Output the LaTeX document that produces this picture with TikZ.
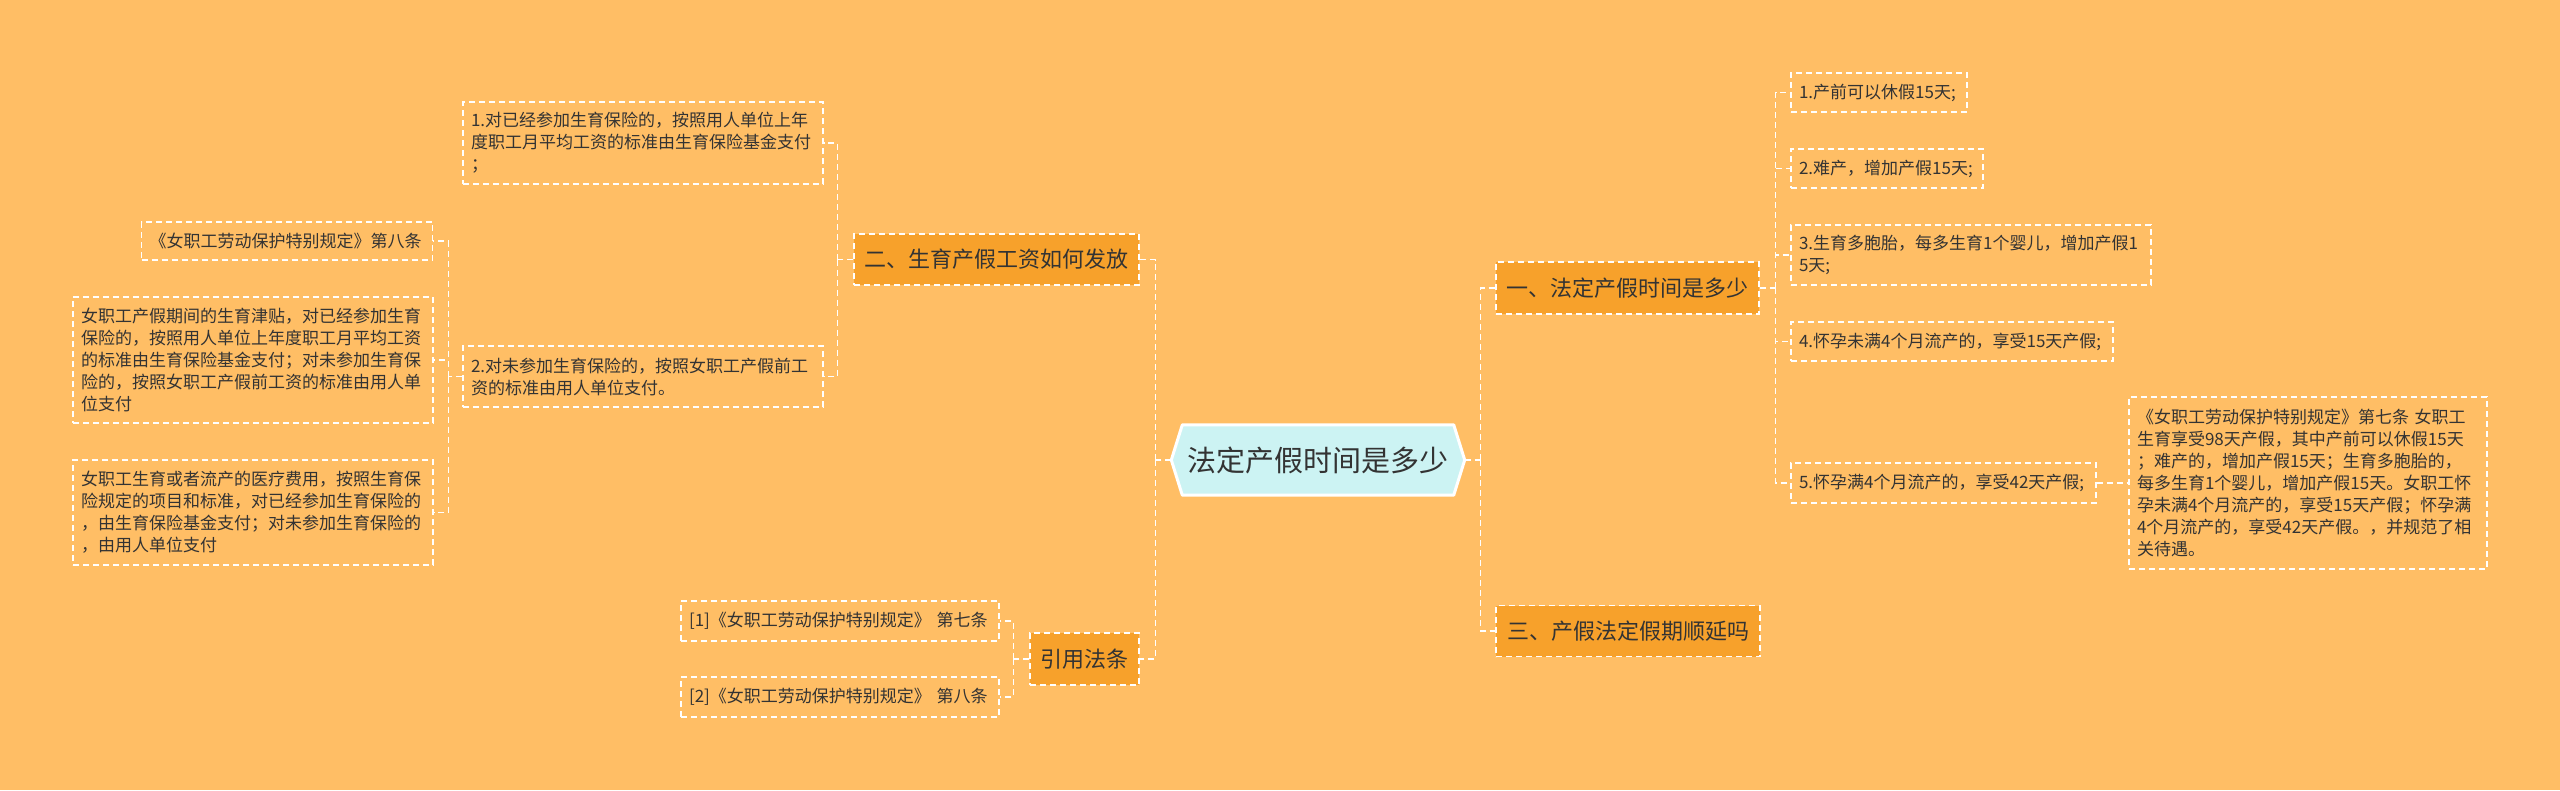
\documentclass[tikz,border=0pt]{standalone}
\usepackage{fontspec}
\setmainfont{Noto Sans CJK SC}
\definecolor{bgc}{HTML}{FFBE65}
\definecolor{brc}{HTML}{F7A12B}
\definecolor{cenc}{HTML}{CCF3F3}
\definecolor{txt}{HTML}{333333}
\pgfdeclarelayer{bg}
\pgfsetlayers{bg,main}
\begin{document}
\begin{tikzpicture}[x=1pt,y=-1pt,
  leaf/.style={draw=white, dash pattern=on 6pt off 4pt, line width=1.3pt, text=txt,
    inner xsep=8pt, inner ysep=0pt, align=left, font=\fontsize{17}{22}\selectfont},
  branch/.style={fill=brc, draw=white, dash pattern=on 6pt off 4pt, line width=1.3pt, text=txt,
    inner sep=0pt, font=\fontsize{22}{26}\selectfont},
  cen/.style={inner sep=0pt, text=txt, minimum width=293pt, minimum height=70pt,
    font=\fontsize{29}{34}\selectfont},
  conn/.style={draw=white, line width=1.3pt, dash pattern=on 6pt off 4pt}
]
\useasboundingbox (0,0) rectangle (2560,790);

% centre
\node[cen] (c) at (1318,460) {法定产假时间是多少};

% main branches
\node[branch, minimum width=285pt, minimum height=51pt] (b2) at (996.5,259.5) {二、生育产假工资如何发放};
\node[branch, minimum width=109pt, minimum height=52pt] (ref) at (1084.5,659) {引用法条};
\node[branch, minimum width=263pt, minimum height=52pt] (b1) at (1627.5,288) {一、法定产假时间是多少};
\node[branch, minimum width=264pt, minimum height=51pt] (b3) at (1628,631) {三、产假法定假期顺延吗};

% left leaves
\node[leaf, text width=344pt, minimum height=82pt] (l1) at (643,143)
  {1.对已经参加生育保险的，按照用人单位上年\\度职工月平均工资的标准由生育保险基金支付\\；};
\node[leaf, text width=344pt, minimum height=61pt] (l2) at (643,376.5)
  {2.对未参加生育保险的，按照女职工产假前工\\资的标准由用人单位支付。};
\node[leaf, text width=275pt, minimum height=38pt] (ll1) at (287,241)
  {《女职工劳动保护特别规定》第八条};
\node[leaf, text width=344pt, minimum height=126pt] (ll2) at (253,360)
  {女职工产假期间的生育津贴，对已经参加生育\\保险的，按照用人单位上年度职工月平均工资\\的标准由生育保险基金支付；对未参加生育保\\险的，按照女职工产假前工资的标准由用人单\\位支付};
\node[leaf, text width=344pt, minimum height=105pt] (ll3) at (253,512.5)
  {女职工生育或者流产的医疗费用，按照生育保\\险规定的项目和标准，对已经参加生育保险的\\，由生育保险基金支付；对未参加生育保险的\\，由用人单位支付};

% references
\node[leaf, text width=302pt, minimum height=40pt] (r1) at (840,621)
  {[1]《女职工劳动保护特别规定》 第七条};
\node[leaf, text width=302pt, minimum height=40pt] (r2) at (840,697)
  {[2]《女职工劳动保护特别规定》 第八条};

% right leaves
\node[leaf, text width=160pt, minimum height=39pt] (p1) at (1879,92.5) {1.产前可以休假15天;};
\node[leaf, text width=176pt, minimum height=39pt] (p2) at (1887,168.5) {2.难产，增加产假15天;};
\node[leaf, text width=344pt, minimum height=60pt] (p3) at (1971,255)
  {3.生育多胞胎，每多生育1个婴儿，增加产假1\\5天;};
\node[leaf, text width=306pt, minimum height=39pt] (p4) at (1952,341.5) {4.怀孕未满4个月流产的，享受15天产假;};
\node[leaf, text width=289pt, minimum height=40pt] (p5) at (1943.5,483) {5.怀孕满4个月流产的，享受42天产假;};
\node[leaf, text width=342pt, minimum height=172pt] (lg) at (2308,483)
  {《女职工劳动保护特别规定》第七条 女职工\\生育享受98天产假，其中产前可以休假15天\\；难产的，增加产假15天；生育多胞胎的，\\每多生育1个婴儿，增加产假15天。女职工怀\\孕未满4个月流产的，享受15天产假；怀孕满\\4个月流产的，享受42天产假。，并规范了相\\关待遇。};

% background and centre hexagon
\begin{pgfonlayer}{bg}
  \fill[bgc] (0,0) rectangle (2560,790);
  \filldraw[fill=cenc, draw=white, line width=3pt, line join=round]
    (c.west) -- ([xshift=11pt]c.north west) -- ([xshift=-11pt]c.north east) --
    (c.east) -- ([xshift=-11pt]c.south east) -- ([xshift=11pt]c.south west) -- cycle;
\end{pgfonlayer}

% connectors
\draw[conn] (c.west) -- ++(-16,0) coordinate (jc);
\draw[conn] (jc) |- (b2.east);
\draw[conn] (jc) |- (ref.east);
\draw[conn] (b2.west) -- ++(-16,0) coordinate (j2);
\draw[conn] (j2) |- (l1.east);
\draw[conn] (j2) |- (l2.east);
\draw[conn] (l2.west) -- ++(-14,0) coordinate (j22);
\draw[conn] (j22) |- (ll1.east);
\draw[conn] (j22) |- (ll2.east);
\draw[conn] (j22) |- (ll3.east);
\draw[conn] (ref.west) -- ++(-16,0) coordinate (jr);
\draw[conn] (jr) |- (r1.east);
\draw[conn] (jr) |- (r2.east);
\draw[conn] (c.east) -- ++(16,0) coordinate (jcr);
\draw[conn] (jcr) |- (b1.west);
\draw[conn] (jcr) |- (b3.west);
\draw[conn] (b1.east) -- ++(16,0) coordinate (j1);
\draw[conn] (j1) |- (p1.west);
\draw[conn] (j1) |- (p2.west);
\draw[conn] (j1) |- (p3.west);
\draw[conn] (j1) |- (p4.west);
\draw[conn] (j1) |- (p5.west);
\draw[conn] (p5.east) -- (lg.west);
\end{tikzpicture}
\end{document}
